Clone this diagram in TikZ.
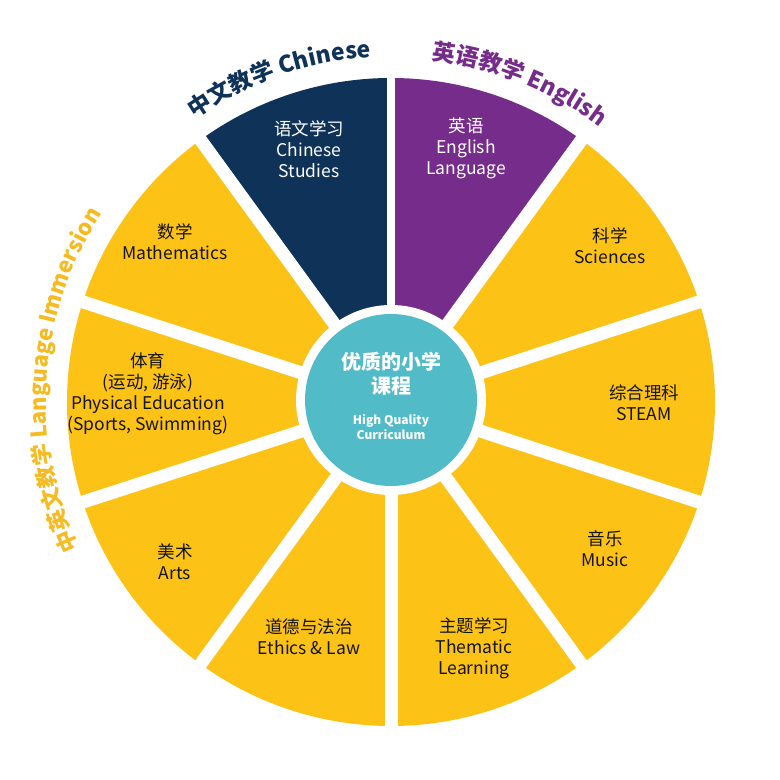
\documentclass[tikz,border=0pt]{standalone}
\usepackage{fontspec}
\setmainfont{Noto Sans CJK SC}
\usetikzlibrary{decorations.text}
\definecolor{navy}{HTML}{0F3358}
\definecolor{purp}{HTML}{762C8B}
\definecolor{yel}{HTML}{FDC216}
\definecolor{teal}{HTML}{52BBC8}
\definecolor{gold}{HTML}{F6BB21}
\definecolor{ink}{HTML}{141414}
\tikzset{
  lbl/.style={align=center, font=\fontsize{17.5}{21}\selectfont, text=ink, inner sep=0pt},
  wlbl/.style={lbl, text=white},
}
\begin{document}
\begin{tikzpicture}[x=1pt,y=1pt]
\useasboundingbox (0,0) rectangle (780,780);
\fill[white] (0,0) rectangle (780,780);
\coordinate (C) at (391,378);
\coordinate (T) at (391,380);
% wedges
\foreach \a in {-90,-54,-18,18,126,162,198,234}
  \fill[yel] (C) -- ++(\a:324) arc[start angle=\a, end angle=\a+36, radius=324] -- cycle;
\fill[navy] (C) -- ++(90:324) arc[start angle=90, end angle=126, radius=324] -- cycle;
\fill[purp] (C) -- ++(54:324) arc[start angle=54, end angle=90, radius=324] -- cycle;
% gaps
\foreach \a in {18,54,126,162,198,234,270,306,342}
  \draw[white, line width=13] (C) -- ++(\a:345);
\draw[white, line width=8] (C) -- ++(90:345);
% centre
\fill[white] (T) circle (95);
\fill[teal] (T) circle (86);
\node[text=white, font=\bfseries\fontsize{20}{24.5}\selectfont, align=center, inner sep=0pt] (hq1) at (391,406) {优质的小学\\课程};
\node[text=white, font=\bfseries\fontsize{12}{15}\selectfont, align=center, inner sep=0pt] (hq2) at (391,353) {High Quality\\Curriculum};
% labels
\node[wlbl] (chn) at (309,631) {语文学习\\Chinese\\Studies};
\node[wlbl] (eng) at (466,632) {英语\\English\\Language};
\node[lbl] (math) at (175,538) {数学\\Mathematics};
\node[lbl] (sci) at (610,534) {科学\\Sciences};
\node[lbl] (pe) at (148,386) {体育\\(运动, 游泳)\\Physical Education\\(Sports, Swimming)};
\node[lbl] (steam) at (644,377) {综合理科\\STEAM};
\node[lbl] (arts) at (175,218) {美术\\Arts};
\node[lbl] (music) at (605,231) {音乐\\Music};
\node[lbl] (eth) at (309,143) {道德与法治\\Ethics \& Law};
\node[lbl] (them) at (474,132) {主题学习\\Thematic\\Learning};
% curved titles
\path[decorate, decoration={text along path, text align=center,
  text={|\bfseries\fontsize{23}{23}\selectfont\color{navy}|中文教学 Chinese}}]
  (C) ++(135:345) arc[start angle=135, end angle=83, radius=345];
\path[decorate, decoration={text along path, text align=center,
  text={|\bfseries\fontsize{23}{23}\selectfont\color{purp}|英语教学 English}}]
  (C) ++(95:345) arc[start angle=95, end angle=41, radius=345];
\path[decorate, decoration={text along path, text align=center,
  text={|\bfseries\fontsize{22}{22}\selectfont\color{gold}|中英文教学 Language Immersion}}]
  (C) ++(212:345) arc[start angle=212, end angle=140, radius=345];
\end{tikzpicture}
\end{document}
